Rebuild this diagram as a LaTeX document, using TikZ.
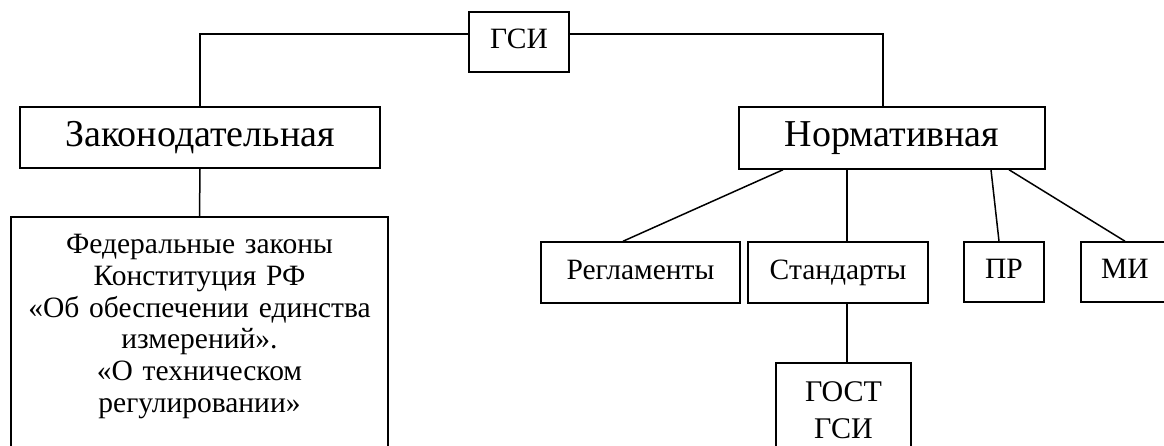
\documentclass[tikz,border=0pt]{standalone}
\usepackage{fontspec}
\setmainfont{Liberation Serif}
\tikzset{
  box/.style={draw, line width=1.5pt, inner sep=0pt, align=center},
  big/.style={font=\fontsize{38}{44}\selectfont, text height=26pt, text depth=8pt},
  small/.style={font=\fontsize{29.5}{33}\selectfont, text height=20pt, text depth=6pt},
  conn/.style={line width=1.5pt},
  para/.style={text width=#1, align=center, anchor=north, inner sep=0pt}
}
\begin{document}
\begin{tikzpicture}[x=1pt,y=-1pt]
\useasboundingbox (0,0) rectangle (1164,446);
\clip (0,0) rectangle (1164,446);
\node[box, small, minimum width=100pt, minimum height=60pt] (gsi) at (519,42) {ГСИ};
\node[box, big, minimum width=360pt, minimum height=61pt] (zak) at (200,137.5) {Законодательная};
\node[box, big, minimum width=306pt, minimum height=62pt] (norm) at (892,138) {Нормативная};
\node[box, minimum width=377pt, minimum height=260pt] (fed) at (199.5,347) {};
\node[para=370pt, font={\fontsize{29.5}{31.8}\selectfont}] (fedtext) at (199.5,234) {\lineskiplimit=-30pt\lineskip=0pt Федеральные законы\\Конституция РФ\\«Об обеспечении единства\\измерений».\\«О техническом\\регулировании»\par};
\node[box, small, minimum width=199pt, minimum height=61pt] (reg) at (640.5,272.5) {Регламенты};
\node[box, small, minimum width=180pt, minimum height=61pt] (stand) at (838,272.5) {Стандарты};
\node[box, small, minimum width=80pt, minimum height=60pt] (pr) at (1004,272) {ПР};
\node[box, small, minimum width=88pt, minimum height=60pt] (mi) at (1125,272) {МИ};
\node[box, minimum width=135pt, minimum height=130pt] (gost) at (843.5,428) {};
\node[para=130pt, font={\fontsize{30}{37}\selectfont}] (gosttext) at (843.5,381) {\lineskiplimit=-30pt\lineskip=0pt ГОСТ\\ГСИ\par};
\draw[conn] ([yshift=8pt]gsi.west) -| (zak.north);
\draw[conn] ([yshift=8pt]gsi.east) -| ([xshift=-9pt]norm.north);
\draw[conn] (zak.south) -- (fed.north);
\draw[conn] ([xshift=-109pt]norm.south) -- ([xshift=-17.5pt]reg.north);
\draw[conn] ([xshift=-45pt]norm.south) -- ([xshift=9pt]stand.north);
\draw[conn] ([xshift=99pt]norm.south) -- ([xshift=-5pt]pr.north);
\draw[conn] ([xshift=117pt]norm.south) -- (mi.north);
\draw[conn] ([xshift=9pt]stand.south) -- ([xshift=3.5pt]gost.north);
\end{tikzpicture}
\end{document}
